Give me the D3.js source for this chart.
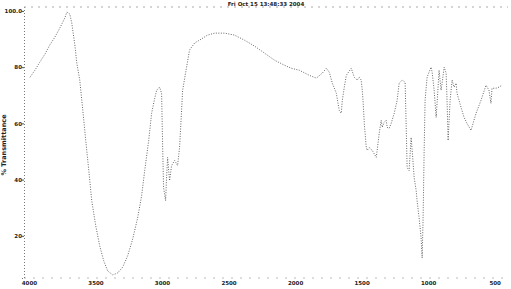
<!DOCTYPE html>
<html>
<head>
<meta charset="utf-8">
<script src="https://cdn.jsdelivr.net/npm/d3@7"></script>
<style>
  body { margin: 0; background: #fff; }
  svg { display: block; }
  text { font-family: "DejaVu Sans", sans-serif; fill: #222; }
</style>
</head>
<body>
<svg id="chart" width="511" height="289"></svg>
<script>
// spectrum: wavenumber (cm-1) and %T
const wavenumbers = [3992, 3955, 3918, 3880, 3843, 3805, 3768, 3730, 3715, 3693, 3678, 3655, 3640, 3618, 3595, 3573, 3550, 3528, 3498, 3468, 3438, 3408, 3370, 3333, 3295, 3258, 3220, 3183, 3153, 3130, 3100, 3078, 3055, 3040, 3018, 3003, 2995, 2988, 2973, 2965, 2958, 2943, 2928, 2905, 2883, 2868, 2853, 2845, 2823, 2793, 2755, 2718, 2658, 2605, 2530, 2455, 2380, 2305, 2230, 2155, 2080, 2028, 1968, 1893, 1840, 1795, 1765, 1743, 1720, 1690, 1668, 1653, 1645, 1630, 1615, 1578, 1555, 1533, 1518, 1503, 1495, 1488, 1480, 1465, 1458, 1443, 1420, 1390, 1383, 1368, 1353, 1345, 1330, 1315, 1308, 1293, 1278, 1255, 1233, 1218, 1195, 1173, 1165, 1158, 1143, 1128, 1120, 1105, 1090, 1083, 1068, 1053, 1045, 1038, 1030, 1023, 1008, 978, 970, 955, 940, 933, 918, 903, 895, 880, 865, 858, 850, 835, 820, 805, 790, 783, 753, 730, 708, 678, 640, 603, 565, 543, 528, 520, 490, 468, 445];
const transmittance = [76.4, 78.9, 81.8, 84.6, 87.9, 90.7, 93.9, 97.5, 99.6, 98.9, 95.7, 87.9, 81.4, 75.4, 64.6, 53.9, 43.2, 32.5, 23.6, 16.4, 11.1, 7.5, 6.1, 6.8, 8.9, 12.9, 18.9, 26.4, 34.3, 43.2, 53.9, 63.6, 68.9, 71.8, 72.9, 70.7, 51.4, 37.1, 32.5, 41.4, 47.9, 39.6, 45, 46.8, 45, 51.4, 64.6, 71.8, 77.9, 86.1, 88.6, 89.6, 91.4, 92.1, 92.1, 91.4, 89.6, 87.5, 85, 82.5, 80.7, 79.6, 78.9, 77.1, 76.1, 77.9, 79.6, 78.2, 74.3, 70.7, 64.6, 63.6, 68.2, 72.9, 77.1, 79.6, 76.4, 75.4, 76.4, 75.4, 71.8, 67.1, 60, 51.4, 50.4, 51.4, 50.4, 47.9, 50.4, 56.4, 61.1, 58.6, 60.4, 61.1, 58.6, 58.2, 60, 63.6, 68.2, 74.3, 75.4, 74.6, 58.6, 44.3, 43.2, 55, 50.4, 40.7, 36.1, 32.5, 26.4, 19.3, 12.1, 26.4, 50.4, 68.2, 76.4, 80, 78.2, 71.8, 62.1, 67.1, 78.9, 71.8, 74.3, 80, 77.9, 68.2, 53.9, 68.2, 75.4, 72.9, 74.3, 70.7, 65.7, 62.1, 60, 57.5, 63.6, 68.2, 73.6, 71.8, 67.1, 72.5, 72.5, 72.9, 73.6];

const xTicks = [4000, 3500, 3000, 2500, 2000, 1500, 1000, 500];
const yTicks = [20, 40, 60, 80, 100];
const yTickLabels = ["20", "40", "60", "80", "100.0"];
const title = "Fri Oct 15 13:48:33 2004";
const yTitle = "% Transmittance";

const svg = d3.select("#chart");

const x = d3.scaleLinear().domain([4037, 400]).range([24, 508]);
const y = d3.scaleLinear().domain([5, 101.4]).range([278, 7]);

// frame, all dotted like the printout
svg.append("line")
  .attr("x1", x(4037)).attr("x2", x(400))
  .attr("y1", y(101.4)).attr("y2", y(101.4))
  .attr("stroke", "#aaa").attr("stroke-dasharray", "2,5");

svg.append("line")
  .attr("x1", x(4037)).attr("x2", x(400))
  .attr("y1", y(5)).attr("y2", y(5))
  .attr("stroke", "#bbb").attr("stroke-dasharray", "2,7");

const yAxis = svg.append("g")
  .attr("transform", `translate(${x(4037)},0)`)
  .call(d3.axisLeft(y).tickValues(yTicks).tickSize(2)
    .tickFormat((d, i) => yTickLabels[i]));
yAxis.select(".domain").attr("stroke", "#777").attr("stroke-dasharray", "1,2");
yAxis.selectAll(".tick line").attr("stroke", "#555");
yAxis.selectAll("text").attr("font-size", 5.5).attr("font-weight", "bold").attr("x", -2);

const xAxis = svg.append("g")
  .attr("transform", `translate(0,${y(5)})`)
  .call(d3.axisBottom(x).tickValues(xTicks).tickSize(0).tickPadding(3)
    .tickFormat(d3.format("d")));
xAxis.select(".domain").remove();
xAxis.selectAll("text").attr("font-size", 5.5).attr("font-weight", "bold");

svg.append("text")
  .attr("x", 266).attr("y", 6)
  .attr("text-anchor", "middle")
  .attr("font-size", 5.5)
  .attr("font-weight", "bold")
  .text(title);

svg.append("text")
  .attr("transform", "translate(6,145) rotate(-90)")
  .attr("text-anchor", "middle")
  .attr("font-size", 6.5)
  .attr("font-weight", "bold")
  .text(yTitle);

const line = d3.line()
  .x((d, i) => x(wavenumbers[i]))
  .y(d => y(d));

svg.append("path")
  .datum(transmittance)
  .attr("fill", "none")
  .attr("stroke", "#555")
  .attr("stroke-width", 0.9)
  .attr("stroke-dasharray", "1,1.5")
  .attr("d", line);
</script>
</body>
</html>
